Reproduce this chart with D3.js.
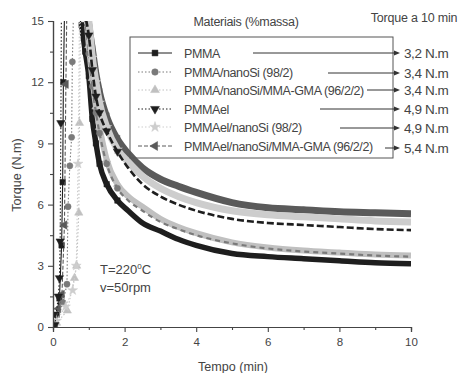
<!DOCTYPE html>
<html>
<head>
<meta charset="utf-8">
<script src="https://cdn.jsdelivr.net/npm/d3@7"></script>
<style>
  body { margin: 0; background: #fff; }
  svg text { font-family: "Liberation Sans", Arial, sans-serif; font-weight: normal; fill: #444; }
</style>
</head>
<body>
<svg id="chart" width="466" height="373"></svg>
<script>
// series names and the torque read at 10 min
const seriesNames = ["PMMA", "PMMA/nanoSi (98/2)", "PMMA/nanoSi/MMA-GMA (96/2/2)",
  "PMMAel", "PMMAel/nanoSi (98/2)", "PMMAel/nanoSi/MMA-GMA (96/2/2)"];
const finalTorque = ["3,2 N.m", "3,4 N.m", "3,4 N.m", "4,9 N.m", "4,9 N.m", "5,4 N.m"];

const xTicks = [0, 2, 4, 6, 8, 10];
const yTicks = [0, 3, 6, 9, 12, 15];

// loading part (fast rise, runs off the top of the chart)
const riseTime = [
  [0.02, 0.10, 0.18, 0.24, 0.27, 0.29, 0.34],
  [0.05, 0.28, 0.39, 0.42, 0.47, 0.52, 0.54, 0.60],
  [0.10, 0.40, 0.60, 0.66, 0.72, 0.74, 0.78],
  [0.05, 0.15, 0.18, 0.20, 0.22, 0.24],
  [0.10, 0.35, 0.55, 0.65, 0.70, 0.75],
  [0.05, 0.15, 0.25, 0.32, 0.36, 0.40]
];
const riseTorque = [
  [0.0, 0.6, 1.4, 4.0, 7.1, 12.0, 17.5],
  [0.0, 1.2, 2.1, 5.9, 7.9, 9.3, 13.0, 17.5],
  [0.2, 0.8, 2.4, 3.0, 5.6, 10.0, 17.5],
  [0.1, 1.5, 2.4, 4.2, 10.0, 17.5],
  [0.3, 1.0, 1.8, 3.0, 8.0, 17.5],
  [0.2, 0.9, 1.6, 5.0, 11.9, 17.5]
];

// relaxation part, common time grid (min)
const decayTime = [0.8, 0.9, 1.0, 1.1, 1.2, 1.3, 1.5, 1.8, 2.1, 2.5, 3, 3.5, 4, 5, 6, 7, 8, 9, 10];
const pmma          = [14.8, 13.5, 12.3, 10.2, 9.0, 8.0, 7.0, 6.2, 5.7, 5.1, 4.7, 4.3, 4.0, 3.6, 3.45, 3.35, 3.25, 3.15, 3.1];
const pmmaNano      = [16.5, 15.2, 13.4, 11.8, 10.5, 9.5, 8.0, 6.8, 6.2, 5.7, 5.15, 4.8, 4.5, 4.1, 3.85, 3.7, 3.6, 3.5, 3.45];
const pmmaNanoGma   = [17.0, 16.0, 13.8, 12.2, 10.8, 9.8, 8.2, 7.0, 6.4, 5.9, 5.3, 4.9, 4.6, 4.15, 3.9, 3.75, 3.65, 3.55, 3.5];
const pmmaEl        = [16.5, 15.3, 14.3, 12.6, 11.3, 10.5, 9.6, 8.6, 7.8, 7.0, 6.4, 6.0, 5.7, 5.3, 5.1, 5.0, 4.9, 4.8, 4.75];
const pmmaElNano    = [17.0, 16.2, 15.0, 13.2, 12.0, 11.0, 9.8, 8.7, 8.1, 7.4, 6.8, 6.4, 6.1, 5.7, 5.5, 5.4, 5.3, 5.2, 5.15];
const pmmaElNanoGma = [17.0, 16.2, 14.8, 13.6, 12.4, 11.5, 10.3, 9.2, 8.5, 7.8, 7.25, 6.9, 6.6, 6.1, 5.85, 5.75, 5.65, 5.6, 5.55];

const decayTorque = [pmma, pmmaNano, pmmaNanoGma, pmmaEl, pmmaElNano, pmmaElNanoGma];

// look of each series
const colors = ["#1e1e1e", "#7a7a7a", "#c0c0c0", "#1e1e1e", "#cdcdcd", "#5a5a5a"];
const shapes = [d3.symbolSquare, d3.symbolCircle, d3.symbolTriangle, d3.symbolTriangle, d3.symbolStar, d3.symbolTriangle];
const rotations = [0, 0, 0, 180, 0, -90];
const dashes = [null, "1.5,2", "1.5,2", "1.5,2", "1.5,2", "4,2"];
const bandWidth = [5.5, 2.2, 6, 2.6, 7, 7];
const drawOrder = [0, 2, 1, 5, 4, 3];

const svg = d3.select("#chart");

const x = d3.scaleLinear().domain([0, 10]).range([53, 411]);
const y = d3.scaleLinear().domain([0, 15]).range([327, 21]);

svg.append("defs").append("clipPath").attr("id", "plot")
  .append("rect").attr("x", 53).attr("y", 21).attr("width", 358).attr("height", 306);

const line = d3.line().x(d => x(d[0])).y(d => y(d[1]));
const smooth = d3.line().x(d => x(d[0])).y(d => y(d[1])).curve(d3.curveMonotoneX);
const sym = (i, size) => d3.symbol().type(shapes[i]).size(size)();

const plot = svg.append("g").attr("clip-path", "url(#plot)");

drawOrder.forEach(i => {
  const rise = riseTime[i].map((t, k) => [t, riseTorque[i][k]]);
  const decay = decayTime.map((t, k) => [t, decayTorque[i][k]]);
  const g = plot.append("g");

  // thin connecting line for the loading part
  g.append("path")
    .attr("d", line(rise.concat([decay[0]])))
    .attr("fill", "none")
    .attr("stroke", colors[i])
    .attr("stroke-width", 1.1)
    .attr("stroke-dasharray", dashes[i]);

  // dense markers look like a thick band
  g.append("path")
    .attr("d", smooth(decay))
    .attr("fill", "none")
    .attr("stroke", colors[i])
    .attr("stroke-width", bandWidth[i])
    .attr("stroke-dasharray", i === 3 ? "7,3" : (i === 1 ? "5,4" : null));

  g.selectAll("path.pt")
    .data(rise.concat(decay.slice(0, 8)))
    .enter().append("path")
    .attr("class", "pt")
    .attr("d", sym(i, 30))
    .attr("transform", d => `translate(${x(d[0])},${y(d[1])}) rotate(${rotations[i]})`)
    .attr("fill", colors[i])
    .attr("stroke", colors[i])
    .attr("stroke-width", 0.5);
});

// axes
const axisColor = "#444";
function styleAxis(g) {
  g.select(".domain").attr("stroke", axisColor).attr("stroke-width", 1.2);
  g.selectAll(".tick line").attr("stroke", axisColor).attr("stroke-width", 1.1);
  g.selectAll(".tick text").attr("fill", "#444").style("font-size", "11.5px");
}

svg.append("g").attr("transform", "translate(0,327)")
  .call(d3.axisBottom(x).tickValues([1, 3, 5, 7, 9]).tickSize(3).tickFormat(""))
  .call(styleAxis);
svg.append("g").attr("transform", "translate(0,327)")
  .call(d3.axisBottom(x).tickValues(xTicks).tickSize(5).tickPadding(6))
  .call(styleAxis);

svg.append("g").attr("transform", "translate(53,0)")
  .call(d3.axisLeft(y).tickValues([1.5, 4.5, 7.5, 10.5, 13.5]).tickSize(3).tickFormat(""))
  .call(styleAxis);
svg.append("g").attr("transform", "translate(53,0)")
  .call(d3.axisLeft(y).tickValues(yTicks).tickSize(5).tickPadding(4))
  .call(styleAxis);

// axis titles
svg.append("text")
  .attr("x", 233).attr("y", 371)
  .attr("text-anchor", "middle")
  .style("font-size", "12.6px")
  .text("Tempo (min)");

svg.append("text")
  .attr("transform", "translate(21,175) rotate(-90)")
  .attr("text-anchor", "middle")
  .style("font-size", "12.6px")
  .text("Torque (N.m)");

// conditions
const cond = svg.append("text").attr("x", 100).attr("y", 274).style("font-size", "13px");
cond.append("tspan").text("T=220");
cond.append("tspan").attr("dy", -5).style("font-size", "8px").text("0");
cond.append("tspan").attr("dy", 5).text("C");
svg.append("text").attr("x", 100).attr("y", 292).style("font-size", "13px").text("v=50rpm");

// legend
svg.append("text").attr("x", 246).attr("y", 26).attr("text-anchor", "middle")
  .style("font-size", "12.5px").style("letter-spacing", "-0.3px").text("Materiais (%massa)");
svg.append("text").attr("x", 414).attr("y", 22).attr("text-anchor", "middle")
  .style("font-size", "12.5px").style("letter-spacing", "-0.2px").text("Torque  a 10 min");

svg.append("rect")
  .attr("x", 130).attr("y", 37).attr("width", 263).attr("height", 121)
  .attr("fill", "none").attr("stroke", "#555").attr("stroke-width", 1);

const rowY = [53, 72, 90, 109, 127, 146];
const arrowStart = [253, 328, 367, 320, 340, 385];
const valueY = [53, 73, 90, 109, 128, 148];

seriesNames.forEach((name, i) => {
  const ry = rowY[i];
  svg.append("line")
    .attr("x1", 138).attr("x2", 172).attr("y1", ry).attr("y2", ry)
    .attr("stroke", colors[i]).attr("stroke-width", 1)
    .attr("stroke-dasharray", i === 0 ? null : dashes[i]);
  svg.append("path")
    .attr("d", sym(i, 34))
    .attr("transform", `translate(155,${ry}) rotate(${rotations[i]})`)
    .attr("fill", colors[i]).attr("stroke", colors[i]).attr("stroke-width", 0.5);
  svg.append("text")
    .attr("x", 184).attr("y", ry + 4.5)
    .style("font-size", "12.5px").style("letter-spacing", "-0.4px")
    .text(name);

  // arrow to the 10 min value
  const vy = valueY[i];
  svg.append("line")
    .attr("x1", arrowStart[i]).attr("x2", 396).attr("y1", vy).attr("y2", vy)
    .attr("stroke", "#333").attr("stroke-width", 1);
  svg.append("path")
    .attr("d", "M0,-2.5L6,0L0,2.5Z")
    .attr("transform", `translate(394,${vy})`)
    .attr("fill", "#333");
  svg.append("text")
    .attr("x", 404).attr("y", vy + 5)
    .style("font-size", "13.5px").style("letter-spacing", "-0.4px")
    .text(finalTorque[i]);
});
</script>
</body>
</html>
